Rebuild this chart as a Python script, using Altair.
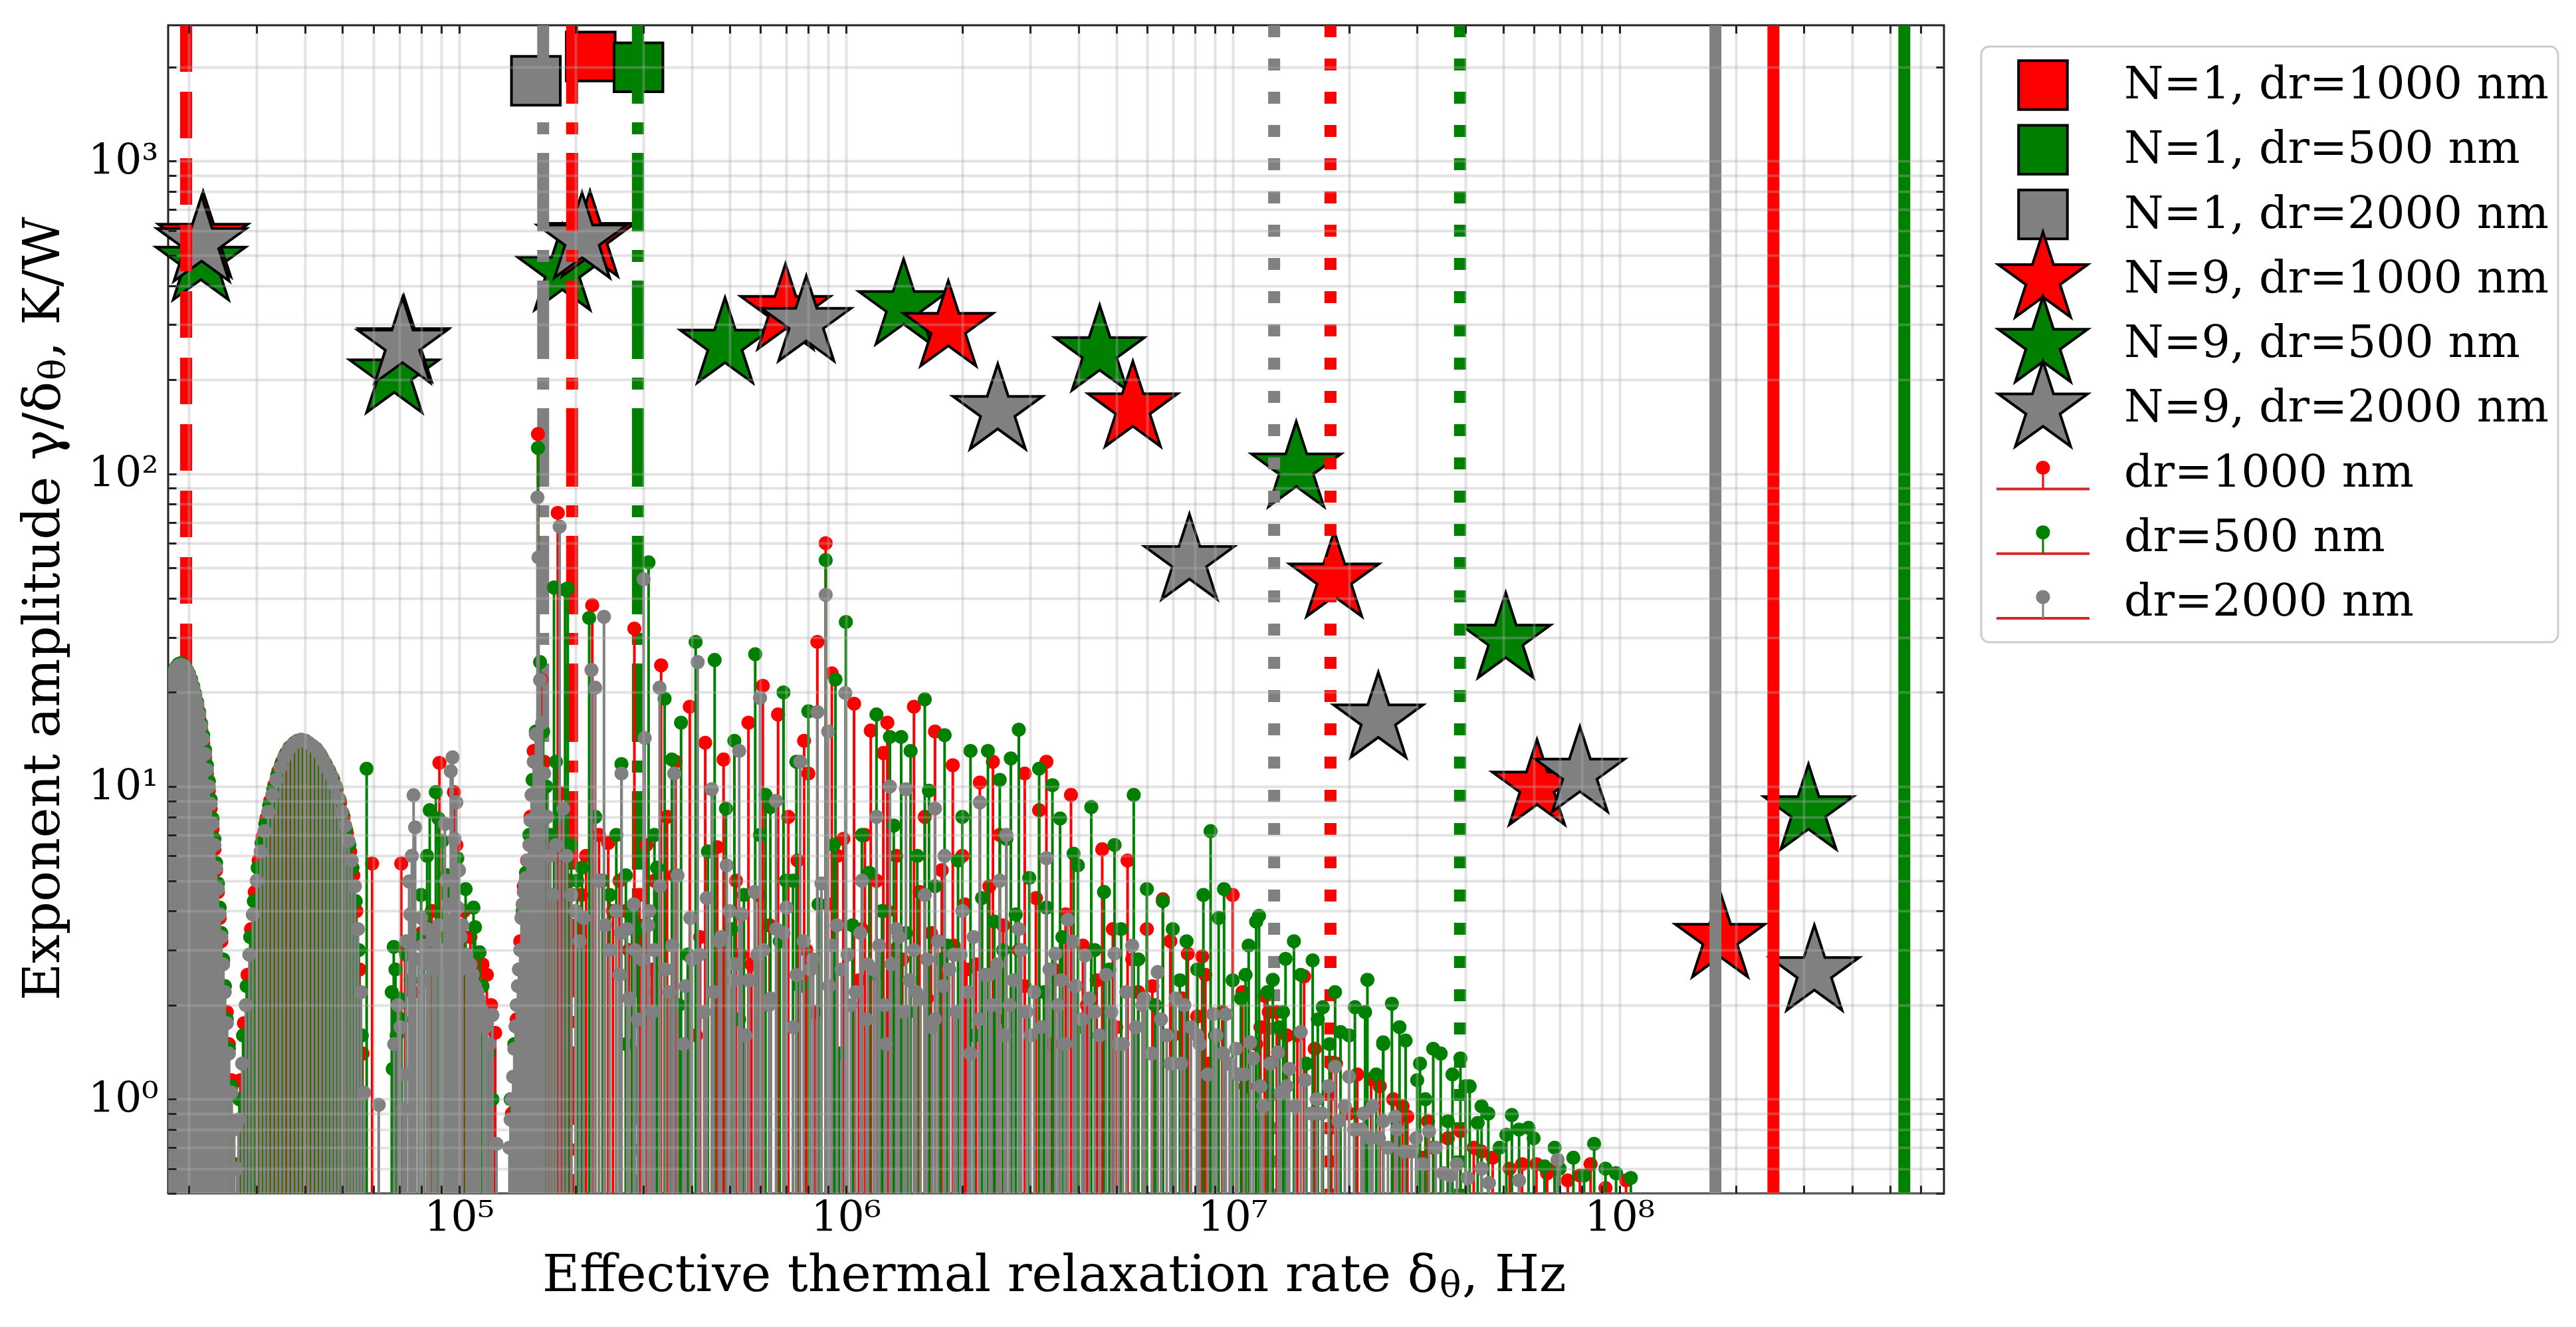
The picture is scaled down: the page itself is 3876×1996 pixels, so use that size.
import altair as alt
import pandas as pd

# ---------------- data ----------------
SERIES = ["dr=1000 nm", "dr=500 nm", "dr=2000 nm"]
PALETTE = ["#ff0000", "#008000", "#808080"]

# N=1 squares
sq_series = ["dr=1000 nm", "dr=500 nm", "dr=2000 nm"]
sq_x = [219000, 291000, 158000]
sq_y = [2160, 1995, 1808]

# N=9 stars (drawn green, red, gray)
star_green_x = [21500, 68000, 185000, 487000, 1410000, 4530000, 14600000, 50800000, 308000000]
star_green_y = [477, 208, 443, 259, 344, 245, 104, 29.5, 8.34]
star_red_x = [21800, 72000, 218000, 698000, 1840000, 5520000, 18300000, 61200000, 182000000]
star_red_y = [565, 262, 568, 332, 293, 162, 46.3, 10.0, 3.26]
star_gray_x = [21600, 71400, 208000, 790000, 2470000, 7730000, 23800000, 79000000, 319000000]
star_gray_y = [547, 259, 561, 304, 159, 52.6, 16.4, 11.0, 2.55]

# vertical marker lines
vl_dash_x = [19700]
vl_x = [165000, 196000, 290000, 12800000, 17900000, 38700000, 177000000, 250000000, 545000000]
vl_series = ["dr=2000 nm", "dr=1000 nm", "dr=500 nm"] * 3
vl_style = ["dashdot"] * 3 + ["dotted"] * 3 + ["solid"] * 3

# stems: first dense bump (shared positions)
bump1_x = [17800, 18050, 18300, 18550, 18800, 19050, 19300, 19550, 19800, 20050,
           20300, 20550, 20800, 21050, 21300, 21550, 21800, 22050, 22300, 22550,
           22800, 23050, 23300, 23550, 23800, 24050, 24300, 24550, 24800, 25100,
           25400, 25800, 26200, 26700]
red_b1 = [20.5, 21.8, 23.0, 23.8, 24.2, 24.4, 24.3, 24.0, 23.3, 22.4, 21.5, 20.3, 19.2, 18.1,
          16.6, 15.2, 13.8, 12.4, 11.0, 9.7, 8.5, 7.3, 6.3, 5.4, 4.6, 3.8, 3.2, 2.75, 2.3,
          1.9, 1.5, 1.15, 0.85, 0.62]
green_b1 = [21.4, 22.6, 23.5, 24.1, 24.6, 24.8, 24.6, 24.2, 23.6, 22.9, 22.0, 20.9, 19.8, 18.6,
            17.3, 15.9, 14.6, 13.1, 11.7, 10.4, 9.1, 7.9, 6.8, 5.7, 4.9, 4.1, 3.4, 2.8, 2.3,
            1.8, 1.45, 1.1, 0.83, 0.61]
gray_b1 = [21.0, 22.2, 23.2, 23.9, 24.3, 24.5, 24.4, 24.1, 23.5, 22.7, 21.7, 20.6, 19.5, 18.3,
           17.0, 15.6, 14.2, 12.7, 11.3, 10.0, 8.8, 7.6, 6.5, 5.5, 4.7, 3.9, 3.3, 2.7, 2.2,
           1.75, 1.4, 1.05, 0.8, 0.6]

# second bump
red_b2_x = [27200, 27800, 28400, 29000, 29650, 30350, 31050, 31750, 32500, 33300, 34100, 34900,
            35750, 36650, 37550, 38450, 39350, 40300, 41300, 42300, 43300, 44300, 45300, 46300,
            47300, 48300, 49300, 50300, 51300, 52300, 53300, 54300, 55300, 56300]
red_b2_y = [1.15, 1.75, 2.5, 3.5, 4.6, 5.8, 6.9, 7.9, 9.0, 10.1, 11.2, 12.0, 12.8, 13.4, 13.8,
            14.0, 14.0, 13.9, 13.6, 13.3, 12.9, 12.3, 11.7, 11.1, 10.5, 9.8, 8.9, 8.0, 7.1, 6.2,
            5.2, 4.0, 2.6, 1.4]
green_b2_x = [27050, 27650, 28250, 28850, 29480, 30170, 30870, 31570, 32300, 33100, 33900, 34700,
              35520, 36420, 37320, 38220, 39120, 40050, 41050, 42050, 43050, 44050, 45050, 46050,
              47050, 48050, 49050, 50050, 51050, 52050, 53050, 54050, 55050, 56050]
green_b2_y = [1.0, 1.6, 2.3, 3.3, 4.3, 5.5, 6.6, 7.6, 8.7, 9.8, 10.9, 11.8, 12.6, 13.3, 13.7,
              14.0, 14.1, 14.0, 13.7, 13.4, 13.0, 12.5, 11.9, 11.3, 10.7, 10.0, 9.1, 8.2, 7.3,
              6.5, 5.5, 4.3, 3.0, 1.6]
gray_b2_x = [26900, 27500, 28100, 28700, 29300, 30000, 30700, 31400, 32100, 32900, 33700, 34500,
             35300, 36200, 37100, 38000, 38900, 39800, 40800, 41800, 42800, 43800, 44800, 45800,
             46800, 47800, 48800, 49800, 50800, 51800, 52800, 53800, 54800, 55800, 56800]
gray_b2_y = [0.86, 1.3, 2.0, 2.9, 3.9, 5.0, 6.2, 7.2, 8.3, 9.4, 10.5, 11.5, 12.4, 13.1, 13.6,
             13.9, 14.1, 14.0, 13.8, 13.5, 13.2, 12.7, 12.0, 11.4, 10.8, 10.1, 9.2, 8.3, 7.5,
             6.7, 5.8, 4.8, 3.5, 2.2, 1.05]

# third cluster
red_c3_x = [59600, 70900, 72500, 76000, 80000, 85000, 89000, 93000, 97000, 98400, 103000,
            107000, 111000, 115000, 118000, 121000, 124000]
red_c3_y = [5.67, 5.67, 3.0, 2.2, 3.4, 4.0, 11.9, 5.2, 9.6, 6.5, 4.0, 3.3, 2.8, 2.7, 2.5, 2.0, 1.63]
green_c3_x = [57700, 67000, 67400, 67800, 68500, 69000, 70000, 71000, 73000, 75000, 77000,
              79800, 81000, 82700, 84000, 87100, 88500, 90500, 93000, 95500, 99000, 104000,
              109000, 110000, 113000, 115000, 119000, 122000]
green_c3_y = [11.4, 2.2, 1.25, 3.07, 2.6, 1.6, 2.1, 1.8, 2.9, 2.4, 3.3, 4.5, 3.8, 6.0, 8.4, 9.6,
              7.9, 6.7, 5.2, 4.6, 5.9, 4.7, 4.1, 3.55, 2.95, 2.3, 1.4, 1.0]
gray_c3_x = [62000, 68000, 69500, 71700, 73000, 74300, 75500, 76300, 77000, 79800, 82700, 85600,
             88700, 91900, 95200, 96200, 98400, 100000, 102000, 107000, 110000, 113000, 118000,
             122000, 125000, 70500, 72300, 78500, 81200, 84000, 87000, 90300, 93500, 97300,
             99200, 104500, 108500, 111500, 115500, 120000, 74800, 80500, 83300, 86300, 89500,
             92700, 94300, 101000, 105800, 112200, 116800]
gray_c3_y = [0.96, 1.5, 2.0, 0.93, 3.2, 4.97, 6.0, 9.38, 7.4, 3.8, 3.5, 3.3, 3.6, 7.6, 11.2,
             12.4, 8.9, 5.4, 3.6, 2.7, 2.3, 2.0, 1.8, 1.86, 0.72, 1.7, 1.2, 2.8, 2.4, 2.9, 2.6,
             3.0, 4.2, 6.8, 4.1, 2.9, 2.5, 2.2, 1.9, 1.5, 3.9, 3.1, 2.7, 3.2, 2.8, 5.0, 3.7, 3.3,
             2.6, 2.1, 1.7]

# fourth cluster
red_c4_x = [137000, 141000, 144000, 147000, 150000, 153000, 156000, 160000, 163000, 166000,
            170000, 174000, 180000, 184000, 188000, 193000, 200000, 207000, 213000, 221000,
            230000, 243000, 250000, 260000, 275000, 284000, 293000, 305000, 320000, 333000,
            345000, 363000]
red_c4_y = [0.9, 1.8, 3.2, 4.8, 5.8, 8.0, 13.0, 134, 22.0, 12.0, 6.5, 4.5, 75, 9.5, 6.0, 5.0,
            3.5, 4.5, 6.0, 38, 7.0, 6.6, 4.0, 5.0, 3.0, 32, 4.5, 6.5, 5.0, 24.4, 8.0, 12.0]
green_c4_x = [136000, 139000, 143000, 146000, 149000, 152000, 155000, 158000, 160000, 162000,
              165000, 168000, 172000, 176000, 178000, 182000, 188000, 191000, 195000, 202000,
              208000, 217000, 225000, 235000, 245000, 255000, 263000, 270000, 280000, 290000,
              309000, 320000, 340000, 355000]
green_c4_y = [1.0, 1.5, 2.6, 4.0, 5.3, 7.0, 10.5, 15.0, 121, 25.0, 15.0, 10.0, 7.0, 43.3, 12.0,
              8.0, 42.6, 43.0, 6.5, 5.0, 5.5, 34.6, 8.0, 5.0, 4.5, 7.0, 11.8, 5.2, 4.0, 3.5,
              52.1, 7.0, 19.1, 12.2]
gray_c4_x = [135000, 136000, 137000, 138000, 139000, 140000, 141000, 142000, 143000, 144000,
             145000, 146000, 147000, 148000, 149000, 150500, 152000, 153000, 154000, 156000,
             158000, 159500, 160500, 162000, 164000, 166000, 169000, 172000, 175000, 178000,
             182000, 186000, 190000, 195000, 200000, 205000, 210000, 220000, 225000, 230000,
             237000, 238500, 245000, 255000, 263000, 272000, 285000, 300000, 302000, 310000,
             330000]
gray_c4_y = [0.7, 0.86, 1.0, 1.18, 1.45, 1.71, 2.0, 2.3, 2.6, 3.0, 3.8, 4.2, 4.6, 4.9, 5.1,
             5.8, 6.5, 7.8, 9.4, 12.0, 14.7, 84, 54, 21.9, 16.0, 11.0, 8.0, 6.0, 4.5, 6.5, 67.8,
             8.5, 6.0, 4.5, 4.0, 3.2, 3.8, 23.6, 20.7, 5.0, 34.9, 3.6, 3.0, 4.0, 11.0, 3.5, 3.0,
             46, 14.3, 4.0, 20.7]

# decaying tail (tallest stems)
red_tail_x = [395000, 433000, 483000, 520000, 560000, 610000, 668000, 710000, 780000, 800000,
              844000, 887000, 920000, 950000, 1050000, 1120000, 1160000, 1250000, 1280000,
              1350000, 1500000, 1600000, 1700000, 1890000, 2000000, 2220000, 2400000, 2500000,
              2900000, 3160000, 3300000, 3820000, 4600000, 5350000, 6000000, 6600000, 7660000,
              8100000, 8340000, 10000000, 10800000, 12100000, 12400000, 15300000, 18000000,
              22800000, 28300000, 33000000, 38800000, 47000000, 61000000, 73500000, 84200000,
              104000000]
red_tail_y = [18, 13.8, 12.2, 5.0, 16, 21, 17.0, 8.0, 14, 11.0, 29.0, 60, 23, 6.0, 18.4, 7.0,
              15.1, 12.8, 16, 6.0, 18.0, 8.0, 15, 11.7, 6.0, 10.3, 12, 7.0, 11, 8.4, 12.0, 9.4,
              6.3, 5.8, 3.5, 4.36, 2.92, 1.84, 2.86, 4.5, 1.1, 2.14, 1.9, 2.47, 1.3, 1.16, 0.88,
              0.7, 0.79, 0.65, 0.62, 0.55, 0.62, 0.55]
green_tail_x = [375000, 409000, 458000, 490000, 515000, 583000, 620000, 638000, 690000, 700000,
                745000, 800000, 887000, 940000, 1000000, 1100000, 1200000, 1300000, 1390000,
                1470000, 1600000, 1640000, 1800000, 2000000, 2100000, 2330000, 2500000, 2670000,
                2800000, 3160000, 3420000, 3580000, 3880000, 4310000, 4950000, 5550000, 6000000,
                7000000, 8400000, 8770000, 9500000, 10800000, 11500000, 11700000, 12700000,
                13700000, 14400000, 16100000, 17100000, 19000000, 20700000, 22300000, 24500000,
                25800000, 28000000, 30000000, 34500000, 38800000, 43000000, 45800000, 51000000,
                52700000, 58200000, 64000000, 81000000, 107000000]
green_tail_y = [16, 29.0, 25.4, 8.5, 14, 26.5, 9.4, 8.6, 20, 5.0, 12, 17.4, 53, 22, 33.6, 7.0,
                17, 14.4, 14.4, 13.0, 19, 9.7, 14.6, 8.0, 13, 13.0, 10.5, 12.3, 15.2, 11.4, 10.1,
                7.9, 6.1, 8.6, 6.5, 9.4, 4.7, 3.5, 4.5, 7.2, 4.7, 2.5, 3.7, 3.86, 2.41, 2.81, 3.2,
                2.78, 1.97, 1.64, 1.97, 2.41, 1.52, 2.02, 1.54, 1.15, 1.40, 1.35, 0.84, 0.90,
                0.77, 0.89, 0.81, 0.61, 0.57, 0.56]
gray_tail_x = [360000, 414000, 450000, 500000, 530000, 600000, 660000, 762000, 844000, 887000,
               900000, 997000, 1100000, 1200000, 1300000, 1430000, 1600000, 1700000, 1800000,
               2000000, 2220000, 2500000, 2600000, 2800000, 3300000, 3480000, 3750000, 3870000,
               4150000, 4950000, 5500000, 6400000, 7500000, 8900000, 9600000, 11100000,
               13100000, 15000000, 18400000, 20000000, 23000000, 26300000, 32200000, 36500000,
               44000000, 55000000, 69200000]
gray_tail_y = [11, 25.0, 9.8, 4.0, 13, 19.2, 9, 12.0, 17.3, 41, 15, 19.9, 5.0, 8.0, 10, 9.8,
               4.5, 8.5, 6.0, 4.0, 8.9, 5.0, 7, 3.5, 5.9, 2.92, 3.75, 3.19, 2.88, 2.92, 3.1, 2.55,
               2.0, 1.87, 1.87, 1.52, 1.41, 1.64, 1.27, 1.18, 0.95, 0.88, 0.79, 0.57, 0.6, 0.55,
               0.64]

# dense floor of short stems under the tail
red_low_x = [270000, 300000, 315000, 360000, 410000, 420000, 465000, 535000, 570000, 595000,
             635000, 750000, 790000, 830000, 900000, 985000, 1080000, 1100000, 1200000, 1280000,
             1330000, 1400000, 1550000, 1620000, 1660000, 1770000, 1900000, 2030000, 2050000,
             2170000, 2350000, 2450000, 2550000, 2800000, 2900000, 3100000, 3400000, 3450000,
             3700000, 4100000, 4200000, 4450000, 4900000, 5000000, 5500000, 5700000, 6200000,
             6900000, 7000000, 7400000, 8500000, 8700000, 9400000, 10600000, 11500000, 11800000,
             13000000, 13800000, 14700000, 16300000, 16500000, 18500000, 20000000, 21000000,
             24000000, 26000000, 27500000, 31000000, 32000000, 36000000, 42000000, 44000000,
             52000000, 56000000, 65000000, 68000000, 79000000, 92000000]
red_low_y = [4.0, 2.2, 2.6, 5.2, 1.6, 3.3, 6.4, 2.9, 2.7, 4.5, 3.6, 5.8, 3.0, 1.9, 4.2, 6.8,
             2.4, 3.5, 5.0, 4.0, 3.0, 2.8, 4.6, 2.1, 3.4, 5.4, 3.1, 4.2, 2.6, 2.7, 4.8, 1.8, 3.6,
             3.0, 2.3, 4.4, 1.5, 2.6, 3.9, 3.1, 2.0, 2.4, 3.5, 1.7, 2.8, 2.2, 2.3, 3.2, 1.6, 2.1,
             2.5, 1.3, 1.9, 2.2, 1.5, 1.7, 1.9, 1.6, 1.6, 1.45, 1.0, 1.3, 0.9, 1.2, 1.1, 1.0,
             0.95, 0.65, 0.85, 0.75, 0.7, 0.68, 0.6, 0.62, 0.58, 0.6, 0.57, 0.52]
green_low_x = [270000, 280000, 325000, 370000, 390000, 440000, 505000, 530000, 545000, 600000,
               675000, 730000, 760000, 850000, 930000, 960000, 1040000, 1150000, 1200000,
               1240000, 1330000, 1430000, 1450000, 1530000, 1700000, 1750000, 1830000, 1950000,
               2150000, 2250000, 2420000, 2550000, 2600000, 2750000, 2980000, 3250000, 3300000,
               3630000, 3980000, 4000000, 4400000, 4650000, 4800000, 5150000, 5700000, 6300000,
               6600000, 7300000, 7600000, 8100000, 9000000, 9200000, 10000000, 10500000,
               11000000, 12300000, 13200000, 13500000, 15000000, 15500000, 16600000, 17800000,
               18400000, 20000000, 22000000, 23500000, 24500000, 27000000, 30500000, 31500000,
               33000000, 36000000, 37000000, 40000000, 41000000, 44000000, 49000000, 55000000,
               60000000, 68000000, 70000000, 76000000, 86000000, 92000000, 98000000]
green_low_y = [1.5, 3.8, 5.5, 2.0, 2.9, 6.2, 3.5, 1.8, 4.5, 7.0, 3.2, 5.0, 2.3, 4.2, 6.5, 1.4,
               3.6, 5.3, 2.5, 4.0, 7.5, 3.4, 1.9, 6.0, 4.8, 2.8, 3.1, 5.8, 1.6, 4.4, 3.7, 3.0,
               6.8, 3.9, 5.1, 2.2, 4.1, 3.3, 5.6, 1.7, 3.0, 4.6, 2.6, 3.5, 2.8, 2.0, 4.3, 2.4,
               3.2, 2.6, 1.6, 3.8, 2.4, 2.1, 3.1, 2.2, 1.7, 1.9, 2.5, 1.3, 1.8, 1.5, 2.2, 1.6,
               1.9, 1.2, 1.5, 1.7, 1.3, 1.0, 1.45, 0.85, 1.2, 1.1, 1.1, 0.95, 0.7, 0.8, 0.75,
               0.7, 0.6, 0.65, 0.72, 0.6, 0.58]
gray_low_x = [260000, 262000, 275000, 283000, 290000, 297000, 308000, 316000, 320000, 331000,
              342000, 350000, 356000, 367000, 380000, 385000, 396000, 400000, 418000, 430000,
              437000, 455000, 470000, 476000, 492000, 510000, 516000, 538000, 550000, 562000,
              581000, 590000, 612000, 633000, 640000, 661000, 690000, 702000, 730000, 745000,
              778000, 810000, 823000, 865000, 905000, 920000, 948000, 975000, 1010000, 1030000,
              1060000, 1090000, 1130000, 1140000, 1180000, 1220000, 1260000, 1270000, 1310000,
              1350000, 1370000, 1410000, 1460000, 1500000, 1520000, 1560000, 1620000, 1670000,
              1700000, 1730000, 1790000, 1850000, 1900000, 1930000, 1980000, 2070000, 2100000,
              2140000, 2210000, 2290000, 2350000, 2380000, 2460000, 2570000, 2650000, 2710000,
              2840000, 2930000, 3000000, 3070000, 3200000, 3360000, 3540000, 3600000, 3690000,
              3930000, 4080000, 4260000, 4400000, 4520000, 4710000, 4860000, 5080000, 5200000,
              5310000, 5620000, 5840000, 5900000, 6180000, 6530000, 6750000, 6900000, 7120000,
              7360000, 7800000, 8100000, 8220000, 8620000, 9080000, 9450000, 9820000, 10200000,
              10300000, 10700000, 11300000, 11800000, 12000000, 12500000, 13300000, 13800000,
              14000000, 14500000, 15400000, 16000000, 16500000, 17000000, 17700000, 18800000,
              19500000, 20600000, 21500000, 21800000, 22700000, 23900000, 24500000, 25200000,
              26600000, 27800000, 29000000, 29800000, 31000000, 33500000, 35000000, 38000000,
              40500000, 46000000]
gray_low_y = [2.5, 3.4, 2.1, 4.2, 1.8, 2.8, 3.6, 1.9, 3.0, 4.8, 2.6, 2.2, 3.1, 5.2, 1.5, 2.3,
              3.8, 2.8, 2.9, 1.9, 4.4, 2.2, 3.2, 3.3, 5.6, 2.4, 2.7, 3.9, 1.6, 2.4, 4.6, 2.9, 3.0,
              2.0, 2.1, 3.5, 3.4, 4.1, 1.7, 2.5, 3.2, 2.6, 2.8, 4.9, 2.3, 3.1, 3.6, 2.6, 2.9, 2.0,
              2.2, 3.4, 1.8, 2.7, 2.6, 3.1, 2.0, 1.5, 2.7, 3.5, 3.3, 1.9, 2.4, 3.0, 2.2, 2.1, 2.8,
              1.7, 1.8, 3.2, 2.3, 2.6, 2.9, 1.9, 2.9, 2.2, 1.4, 3.3, 1.8, 2.5, 2.5, 2.0, 2.7,
              1.6, 2.0, 2.4, 3.0, 1.9, 1.6, 2.2, 1.7, 2.6, 2.0, 2.4, 1.5, 2.3, 1.8, 2.1, 1.9,
              1.6, 2.5, 1.9, 1.5, 1.5, 2.2, 1.7, 2.0, 2.1, 1.4, 1.8, 1.6, 1.3, 2.1, 1.3, 1.7,
              1.6, 1.5, 1.2, 1.6, 1.4, 1.3, 1.45, 1.2, 1.2, 1.35, 1.1, 0.95, 1.3, 1.05, 1.1,
              1.25, 0.95, 1.15, 0.9, 1.0, 0.9, 1.1, 0.85, 0.95, 0.8, 0.8, 0.9, 0.75, 0.75, 0.85,
              0.7, 0.8, 0.68, 0.68, 0.75, 0.62, 0.7, 0.58, 0.62, 0.56, 0.54]

legend_labels = ["N=1, dr=1000 nm", "N=1, dr=500 nm", "N=1, dr=2000 nm",
                 "N=9, dr=1000 nm", "N=9, dr=500 nm", "N=9, dr=2000 nm",
                 "dr=1000 nm", "dr=500 nm", "dr=2000 nm"]
legend_kind = ["square"] * 3 + ["star"] * 3 + ["stem"] * 3

x_tick_labels = {100000: "10⁵", 1000000: "10⁶", 10000000: "10⁷", 100000000: "10⁸"}
y_tick_labels = {1: "10⁰", 10: "10¹", 100: "10²", 1000: "10³"}

# axis titles, split around the subscript theta
x_title = ["Effective thermal relaxation rate δ", "θ", ", Hz"]
y_title = ["Exponent amplitude γ/δ", "θ", ", K/W"]

# ---------------- layout ----------------
W, H = 2672, 1757
X_DOMAIN = [17700, 6.9e8]
Y_DOMAIN = [0.5, 2720]
FONT = "DejaVu Serif"
STAR = ("M0,-1L0.2245,-0.309L0.9511,-0.309L0.3633,0.118L0.5878,0.809L0,0.382"
        "L-0.5878,0.809L-0.3633,0.118L-0.9511,-0.309L-0.2245,-0.309Z")

x_ticks = [m * 10 ** e for e in range(4, 9) for m in range(1, 10)
           if X_DOMAIN[0] <= m * 10 ** e <= X_DOMAIN[1]]
y_ticks = [round(m * 10.0 ** e, 6) for e in range(-1, 4) for m in range(1, 10)
           if Y_DOMAIN[0] <= m * 10.0 ** e <= Y_DOMAIN[1]]


def label_expr(mapping):
    expr = "''"
    for v, s in mapping.items():
        expr = f"datum.value == {v} ? '{s}' : " + expr
    return expr


color_scale = alt.Scale(domain=SERIES, range=PALETTE)
xs = alt.Scale(type="log", domain=X_DOMAIN, nice=False)
ys = alt.Scale(type="log", domain=Y_DOMAIN, nice=False)

tick_style = dict(ticks=True, tickSize=12, offset=-12, tickWidth=3, tickColor="#222222",
                  domain=False, zindex=1, title=None)
grid_style = dict(grid=True, gridColor="#b0b0b0", gridOpacity=0.35, gridWidth=4)
label_style = dict(labelFont=FONT, labelFontSize=63, labelColor="black",
                   labelOverlap=False, labelFlush=False)
axis_bottom = alt.Axis(orient="bottom", values=x_ticks, labelExpr=label_expr(x_tick_labels),
                       labelPadding=6, **grid_style, **label_style, **tick_style)
axis_left = alt.Axis(orient="left", values=y_ticks, labelExpr=label_expr(y_tick_labels),
                     labelPadding=15, **grid_style, **label_style, **tick_style)
axis_top = alt.Axis(orient="top", values=x_ticks, labels=False, grid=False, **tick_style)
axis_right = alt.Axis(orient="right", values=y_ticks, labels=False, grid=False, **tick_style)


def xy(xaxis=None, yaxis=None):
    return dict(x=alt.X("x:Q", scale=xs, axis=xaxis),
                y=alt.Y("y:Q", scale=ys, axis=yaxis))


# ---------------- frames ----------------
squares = pd.DataFrame({"x": sq_x, "y": sq_y, "series": sq_series})
stars = pd.DataFrame({
    "x": star_green_x + star_red_x + star_gray_x,
    "y": star_green_y + star_red_y + star_gray_y,
    "series": ["dr=500 nm"] * 9 + ["dr=1000 nm"] * 9 + ["dr=2000 nm"] * 9,
})
vlines = pd.DataFrame({"x": vl_dash_x + vl_x,
                       "series": ["dr=1000 nm"] + vl_series,
                       "style": ["dashed"] + vl_style})

stems = {
    "dr=1000 nm": pd.DataFrame({
        "x": bump1_x + red_b2_x + red_c3_x + red_c4_x + red_low_x + red_tail_x,
        "y": red_b1 + red_b2_y + red_c3_y + red_c4_y + red_low_y + red_tail_y}),
    "dr=500 nm": pd.DataFrame({
        "x": bump1_x + green_b2_x + green_c3_x + green_c4_x + green_low_x + green_tail_x,
        "y": green_b1 + green_b2_y + green_c3_y + green_c4_y + green_low_y + green_tail_y}),
    "dr=2000 nm": pd.DataFrame({
        "x": bump1_x + gray_b2_x + gray_c3_x + gray_c4_x + gray_low_x + gray_tail_x,
        "y": gray_b1 + gray_b2_y + gray_c3_y + gray_c4_y + gray_low_y + gray_tail_y}),
}

# ---------------- layers ----------------
square_layer = alt.Chart(squares).mark_point(
    shape="square", filled=True, size=5400, stroke="black", strokeWidth=4, opacity=1, clip=True
).encode(**xy(xaxis=axis_top, yaxis=axis_right),
         fill=alt.Fill("series:N", scale=color_scale, legend=None))

star_layer = alt.Chart(stars).mark_point(
    shape=STAR, filled=True, size=20000, stroke="black", strokeWidth=4, opacity=1
).encode(**xy(), fill=alt.Fill("series:N", scale=color_scale, legend=None))

dash_scale = alt.Scale(domain=["dashed", "dashdot", "dotted", "solid"],
                       range=[[70, 30], [118, 28, 18, 28], [18, 32], [1, 0]])
vline_layer = alt.Chart(vlines).mark_rule(strokeWidth=18, clip=True).encode(
    x=alt.X("x:Q", scale=xs, axis=axis_bottom),
    color=alt.Color("series:N", scale=color_scale, legend=None),
    strokeDash=alt.StrokeDash("style:N", scale=dash_scale, legend=None),
)

stem_layers = []
for name, col in zip(SERIES, PALETTE):
    df = stems[name]
    stem_layers.append(alt.Chart(df).mark_rule(color=col, strokeWidth=4, clip=True).encode(
        **xy(), y2=alt.Y2Datum(0.2)))
    stem_layers.append(alt.Chart(df).mark_circle(color=col, size=450, opacity=1, clip=True)
                       .encode(**xy()))

# anchor the left axis on a layer that has y
axis_anchor = alt.Chart(squares).mark_point(opacity=0, size=1).encode(
    **xy(yaxis=axis_left))

main = alt.layer(square_layer, star_layer, vline_layer, *stem_layers, axis_anchor)

# ---------------- axis titles (with subscript) ----------------
one = pd.DataFrame({"t": [0]})
TITLE_FS, SUB_FS = 77, 54


def title_part(text, x, y, size, align, angle=0):
    return alt.Chart(one).mark_text(text=text, font=FONT, fontSize=size, color="black",
                                    align=align, baseline="middle", angle=angle).encode(
        x=alt.value(x), y=alt.value(y))


XT_Y, XT_SPLIT = H + 124, 1911
YT_X, YT_SPLIT = -187, 536
titles = [
    title_part(x_title[0], XT_SPLIT, XT_Y, TITLE_FS, "right"),
    title_part(x_title[1], XT_SPLIT + 2, XT_Y + 15, SUB_FS, "left"),
    title_part(x_title[2], XT_SPLIT + 36, XT_Y, TITLE_FS, "left"),
    title_part(y_title[0], YT_X, YT_SPLIT, TITLE_FS, "right", 270),
    title_part(y_title[1], YT_X + 15, YT_SPLIT - 2, SUB_FS, "left", 270),
    title_part(y_title[2], YT_X, YT_SPLIT - 36, TITLE_FS, "left", 270),
]

# ---------------- legend ----------------
leg = pd.DataFrame({"label": legend_labels, "kind": legend_kind,
                    "series": SERIES * 3, "row": list(range(9))})
ly = alt.Y("row:Q", scale=alt.Scale(domain=[0, 8], range=[90, 868]), axis=None)
SX = 2821
leg_fill = alt.Fill("series:N", scale=color_scale, legend=None)
leg_color = alt.Color("series:N", scale=color_scale, legend=None)

leg_box = alt.Chart(one).mark_rect(
    cornerRadius=12, fill="white", fillOpacity=0.8, stroke="#cccccc", strokeWidth=3
).encode(x=alt.value(2728), x2=alt.value(3596), y=alt.value(32), y2=alt.value(928))
leg_base = alt.Chart(leg)
leg_sq = leg_base.transform_filter("datum.kind == 'square'").mark_point(
    shape="square", filled=True, size=5400, stroke="black", strokeWidth=4, opacity=1
).encode(x=alt.value(SX), y=ly, fill=leg_fill)
leg_star = leg_base.transform_filter("datum.kind == 'star'").mark_point(
    shape=STAR, filled=True, size=20000, stroke="black", strokeWidth=4, opacity=1
).encode(x=alt.value(SX), y=ly, fill=leg_fill)
stem_rows = leg_base.transform_filter("datum.kind == 'stem'")
leg_baseline = stem_rows.mark_rule(color="#d62728", strokeWidth=4, yOffset=24).encode(
    x=alt.value(SX - 70), x2=alt.value(SX + 70), y=ly)
leg_stem = stem_rows.mark_rule(strokeWidth=3, yOffset=-8, y2Offset=24).encode(
    x=alt.value(SX), y=ly, y2=alt.Y2("row:Q"), color=leg_color)
leg_dot = stem_rows.mark_circle(size=450, opacity=1, yOffset=-8).encode(
    x=alt.value(SX), y=ly, color=leg_color)
leg_text = leg_base.mark_text(align="left", baseline="middle", font=FONT, fontSize=68,
                              color="black").encode(x=alt.value(2943), y=ly, text="label:N")

legend = alt.layer(leg_box, leg_sq, leg_star, leg_baseline, leg_stem, leg_dot, leg_text,
                   *titles)

chart = alt.layer(main, legend).resolve_scale(y="independent").properties(
    width=W, height=H,
    autosize=alt.AutoSizeParams(type="none"),
    padding={"left": 245, "top": 30, "right": 943, "bottom": 193},
    background="white",
).configure_view(stroke="#222222", strokeWidth=3)

chart.save("out.html", embed_options={"renderer": "svg", "actions": False})
